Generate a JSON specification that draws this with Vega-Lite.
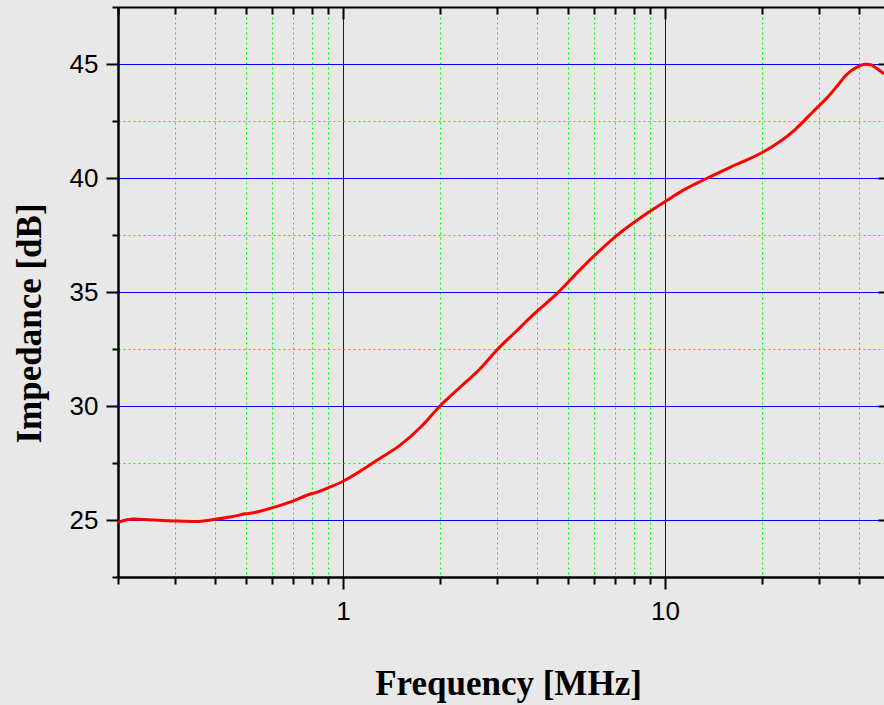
{
  "$schema": "https://vega.github.io/schema/vega-lite/v6.json",
  "description": "Impedance vs frequency, log x axis",
  "width": 766,
  "height": 570,
  "autosize": {"type": "none"},
  "padding": {"left": 118, "top": 7, "right": 0, "bottom": 128},
  "background": "#e8e8e8",
  "config": {"view": {"stroke": null}},
  "data": {
    "values": [
      {"freq": 0.2, "imp": 24.9},
      {"freq": 0.2235, "imp": 25.04},
      {"freq": 0.26, "imp": 25.0},
      {"freq": 0.298, "imp": 24.96},
      {"freq": 0.348, "imp": 24.93},
      {"freq": 0.397, "imp": 25.02},
      {"freq": 0.45, "imp": 25.14},
      {"freq": 0.498, "imp": 25.27},
      {"freq": 0.535, "imp": 25.34},
      {"freq": 0.597, "imp": 25.52},
      {"freq": 0.695, "imp": 25.82},
      {"freq": 0.784, "imp": 26.12},
      {"freq": 0.822, "imp": 26.2},
      {"freq": 0.905, "imp": 26.43},
      {"freq": 1.0, "imp": 26.7},
      {"freq": 1.148, "imp": 27.2},
      {"freq": 1.3, "imp": 27.7},
      {"freq": 1.494, "imp": 28.25},
      {"freq": 1.75, "imp": 29.1},
      {"freq": 1.99, "imp": 29.97},
      {"freq": 2.3, "imp": 30.8},
      {"freq": 2.65, "imp": 31.6},
      {"freq": 3.01, "imp": 32.47},
      {"freq": 3.45, "imp": 33.28},
      {"freq": 3.89, "imp": 34.0},
      {"freq": 4.65, "imp": 34.97},
      {"freq": 5.43, "imp": 35.96},
      {"freq": 6.13, "imp": 36.69},
      {"freq": 7.0, "imp": 37.42},
      {"freq": 8.77, "imp": 38.44},
      {"freq": 10.07, "imp": 38.99},
      {"freq": 11.5, "imp": 39.5},
      {"freq": 13.5, "imp": 39.99},
      {"freq": 16.5, "imp": 40.57},
      {"freq": 20.1, "imp": 41.13},
      {"freq": 25.1, "imp": 42.07},
      {"freq": 29.0, "imp": 42.95},
      {"freq": 31.9, "imp": 43.53},
      {"freq": 34.3, "imp": 44.05},
      {"freq": 36.7, "imp": 44.55},
      {"freq": 39.3, "imp": 44.85},
      {"freq": 41.9, "imp": 44.99},
      {"freq": 43.5, "imp": 44.97},
      {"freq": 45.1, "imp": 44.84},
      {"freq": 47.85, "imp": 44.57}
    ]
  },
  "encoding": {
    "x": {"field": "freq", "type": "quantitative", "scale": {"type": "log", "domain": [0.2, 47.85], "nice": false}},
    "y": {"field": "imp", "type": "quantitative", "scale": {"domain": [22.5, 47.5], "nice": false, "zero": false}}
  },
  "layer": [
    {
      "mark": {"type": "line", "opacity": 0},
      "encoding": {
        "x": {
          "field": "freq", "type": "quantitative",
          "axis": {
            "orient": "bottom",
            "values": [0.2, 0.3, 0.4, 0.5, 0.6, 0.7, 0.8, 0.9, 2, 3, 4, 5, 6, 7, 8, 9, 20, 30, 40],
            "grid": true, "gridColor": "#00ff00", "gridDash": [2, 3], "gridWidth": 1,
            "tickSize": 7, "tickColor": "black", "tickWidth": 2,
            "domainColor": "black", "domainWidth": 2,
            "labels": false, "title": null
          }
        },
        "y": {
          "field": "imp", "type": "quantitative",
          "axis": {
            "orient": "left",
            "values": [22.5, 27.5, 32.5, 37.5, 42.5, 47.5],
            "grid": true, "gridColor": "#00ff00", "gridDash": [2, 3], "gridWidth": 1,
            "tickSize": 6, "tickColor": "black", "tickWidth": 2,
            "domainColor": "black", "domainWidth": 2,
            "labels": false, "title": null
          }
        }
      }
    },
    {
      "mark": {"type": "line", "opacity": 0},
      "encoding": {
        "x": {
          "field": "freq", "type": "quantitative",
          "axis": {
            "orient": "bottom", "offset": -570,
            "values": [0.2, 0.3, 0.4, 0.5, 0.6, 0.7, 0.8, 0.9, 2, 3, 4, 5, 6, 7, 8, 9, 20, 30, 40],
            "grid": false,
            "tickSize": 7, "tickColor": "black", "tickWidth": 2,
            "domainColor": "black", "domainWidth": 2,
            "labels": false, "title": null
          }
        },
        "y": {
          "field": "imp", "type": "quantitative",
          "axis": {
            "orient": "left", "offset": -766,
            "values": [25, 30, 35, 40, 45],
            "grid": false, "domain": false,
            "tickSize": 6, "tickColor": "black", "tickWidth": 2,
            "labels": false, "title": null
          }
        }
      }
    },
    {
      "mark": {"type": "line", "opacity": 0},
      "encoding": {
        "x": {
          "field": "freq", "type": "quantitative",
          "axis": {
            "orient": "bottom", "offset": -570,
            "values": [1, 10],
            "grid": false, "domain": false,
            "tickSize": 12, "tickColor": "black", "tickWidth": 2,
            "labels": false, "title": null
          }
        },
        "y": {"field": "imp", "type": "quantitative", "axis": null}
      }
    },
    {
      "mark": {"type": "line", "color": "#ff0000", "strokeWidth": 3, "interpolate": "monotone", "clip": true},
      "encoding": {
        "x": {
          "field": "freq", "type": "quantitative",
          "axis": {
            "orient": "bottom",
            "values": [1, 10],
            "grid": true, "gridColor": "#0000ff", "gridWidth": 1,
            "tickSize": 12, "tickColor": "black", "tickWidth": 2,
            "domainColor": "black", "domainWidth": 2,
            "format": "~g",
            "labelFont": "Liberation Sans", "labelFontSize": 26, "labelColor": "black",
            "labelPadding": 9, "labelFlush": false, "labelOverlap": false,
            "title": "Frequency [MHz]",
            "titleFont": "Liberation Serif", "titleFontSize": 35, "titleFontWeight": "bold", "titleColor": "black",
            "titleX": 390, "titleY": 106, "titleAlign": "center", "titleBaseline": "middle"
          }
        },
        "y": {
          "field": "imp", "type": "quantitative",
          "axis": {
            "orient": "left",
            "values": [25, 30, 35, 40, 45],
            "grid": true, "gridColor": "#0000ff", "gridWidth": 1,
            "tickSize": 12, "tickColor": "black", "tickWidth": 2,
            "domainColor": "black", "domainWidth": 2,
            "labelFont": "Liberation Sans", "labelFontSize": 26, "labelColor": "black",
            "labelPadding": 8, "labelFlush": false, "labelOverlap": false,
            "title": "Impedance [dB]",
            "titleFont": "Liberation Serif", "titleFontSize": 35, "titleFontWeight": "bold", "titleColor": "black",
            "titleAngle": -90, "titleX": -89, "titleY": 316, "titleAlign": "center", "titleBaseline": "middle"
          }
        }
      }
    }
  ],
  "resolve": {"axis": {"x": "independent", "y": "independent"}}
}
